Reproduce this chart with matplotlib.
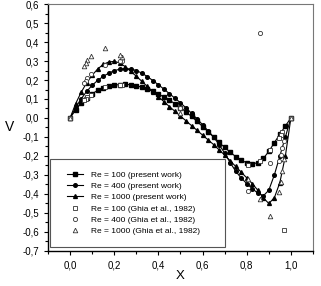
import numpy as np
import matplotlib
matplotlib.use("Agg")
from matplotlib import pyplot as plt
from matplotlib.ticker import MultipleLocator, FuncFormatter
from matplotlib.patches import Rectangle

plt.rcParams['font.family'] = ['Liberation Sans', 'DejaVu Sans']

# present work, sampled along the horizontal centerline
x_pw = [0.0, 0.025, 0.05, 0.075, 0.1, 0.125, 0.15, 0.175, 0.2, 0.225, 0.25,
        0.275, 0.3, 0.325, 0.35, 0.375, 0.4, 0.425, 0.45, 0.475, 0.5,
        0.525, 0.55, 0.575, 0.6, 0.625, 0.65, 0.675, 0.7, 0.725, 0.75,
        0.775, 0.8, 0.825, 0.85, 0.875, 0.9, 0.925, 0.95, 0.975, 1.0]
v_re100 = [0.0, 0.042, 0.078, 0.106, 0.128, 0.145, 0.158, 0.167, 0.173, 0.176, 0.177,
           0.175, 0.170, 0.162, 0.152, 0.140, 0.126, 0.111, 0.094, 0.075, 0.055,
           0.032, 0.008, -0.018, -0.045, -0.072, -0.100, -0.128, -0.155, -0.180, -0.203,
           -0.222, -0.236, -0.242, -0.235, -0.213, -0.176, -0.130, -0.085, -0.042, 0.0]
v_re400 = [0.0, 0.055, 0.100, 0.140, 0.172, 0.198, 0.219, 0.236, 0.249, 0.257, 0.260,
           0.258, 0.250, 0.236, 0.218, 0.197, 0.175, 0.152, 0.128, 0.104, 0.080,
           0.053, 0.025, -0.005, -0.035, -0.068, -0.100, -0.140, -0.185, -0.235, -0.280,
           -0.316, -0.345, -0.372, -0.395, -0.410, -0.380, -0.300, -0.200, -0.100, 0.0]
v_re1000 = [0.0, 0.075, 0.135, 0.185, 0.225, 0.258, 0.282, 0.295, 0.298, 0.290, 0.270,
            0.245, 0.220, 0.193, 0.166, 0.139, 0.112, 0.086, 0.060, 0.035, 0.010,
            -0.015, -0.040, -0.065, -0.090, -0.115, -0.140, -0.168, -0.195, -0.225, -0.255,
            -0.285, -0.315, -0.345, -0.380, -0.420, -0.450, -0.420, -0.340, -0.200, 0.0]

# Ghia et al. (1982) as plotted
x_ghia = [1.0, 0.9688, 0.9609, 0.9531, 0.9453, 0.9063, 0.8594, 0.8047, 0.5,
          0.2344, 0.2266, 0.1563, 0.0938, 0.0781, 0.0703, 0.0625, 0.0]
g_re100 = [0.0, -0.5906, -0.07391, -0.08864, -0.10313, -0.16914, -0.22445, -0.24533, 0.05454,
           0.17527, 0.17507, 0.16077, 0.12317, 0.10890, 0.10091, 0.09233, 0.0]
g_re400 = [0.0, -0.12146, -0.15663, -0.19254, -0.22847, -0.23827, 0.44993, -0.38598, 0.05188,
           0.30174, 0.30203, 0.28124, 0.22965, 0.20920, 0.19713, 0.18360, 0.0]
g_re1000 = [0.0, -0.21388, -0.27669, -0.33714, -0.39188, -0.51550, -0.42665, -0.31966, 0.02526,
            0.32235, 0.33075, 0.37095, 0.32627, 0.30353, 0.29012, 0.27485, 0.0]

fig = plt.figure(figsize=(3.21, 2.86), dpi=100)
ax = fig.add_axes([0.1495, 0.1224, 0.8255, 0.8636])

ax.plot(x_pw, v_re100, '-s', color='black', ms=2.6, lw=0.8, label='Re = 100 (present work)')
ax.plot(x_pw, v_re400, '-o', color='black', ms=2.6, lw=0.8, label='Re = 400 (present work)')
ax.plot(x_pw, v_re1000, '-^', color='black', ms=2.8, lw=0.8, label='Re = 1000 (present work)')
ax.plot(x_ghia, g_re100, 's', mfc='white', mec='#333333', mew=0.6, ms=3, ls='none',
        label='Re = 100 (Ghia et al., 1982)')
ax.plot(x_ghia, g_re400, 'o', mfc='white', mec='#333333', mew=0.6, ms=3, ls='none',
        label='Re = 400 (Ghia et al., 1982)')
ax.plot(x_ghia, g_re1000, '^', mfc='white', mec='#333333', mew=0.6, ms=3.3, ls='none',
        label='Re = 1000 (Ghia et al., 1982)')

ax.set_xlim(-0.1, 1.1)
ax.set_ylim(-0.7, 0.6)
ax.xaxis.set_major_locator(MultipleLocator(0.2))
ax.xaxis.set_minor_locator(MultipleLocator(0.1))
ax.yaxis.set_major_locator(MultipleLocator(0.1))
ax.yaxis.set_minor_locator(MultipleLocator(0.05))
fmt = FuncFormatter(lambda v, p: ('%.1f' % v).replace('.', ',').replace('-0,0', '0,0'))
ax.xaxis.set_major_formatter(fmt)
ax.yaxis.set_major_formatter(fmt)
ax.tick_params(which='both', direction='out', top=False, right=False, labelsize=7, width=0.8)
ax.tick_params(which='major', length=3)
ax.tick_params(which='minor', length=2)
for s in ['top', 'right']:
    ax.spines[s].set_color('#777777')
for s in ['left', 'bottom']:
    ax.spines[s].set_linewidth(1.0)

ax.set_xlabel('X', fontsize=9.5, labelpad=0)
ax.set_ylabel('V', fontsize=10, rotation=0, labelpad=9, va='center')

# legend box drawn separately so the padding can be wider than tall
ax.add_patch(Rectangle((0.0075, 0.016), 0.6605, 0.3565, transform=ax.transAxes,
                       fill=False, edgecolor='#555555', lw=0.8, zorder=4))
leg = ax.legend(loc='center left', bbox_to_anchor=(0.072, 0.194), borderaxespad=0,
                fontsize=6.0, frameon=False, borderpad=0,
                handlelength=1.9, labelspacing=0.42, handletextpad=1.0)

fig.savefig('out.png', dpi=100)
